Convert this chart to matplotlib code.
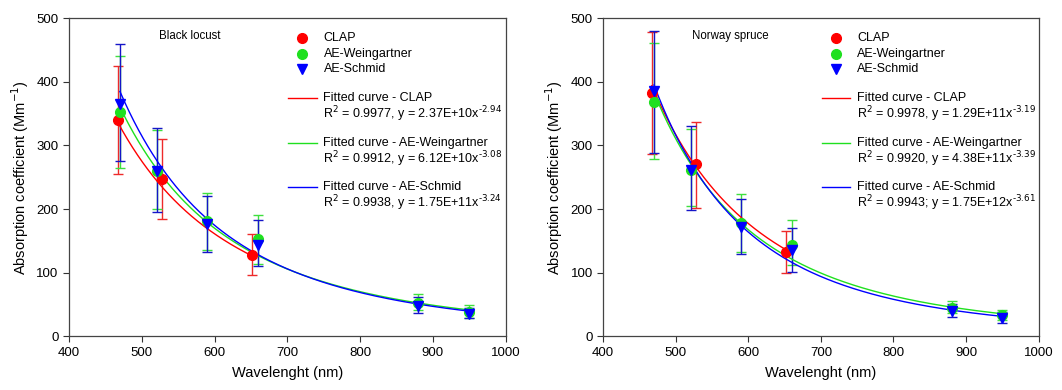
import numpy as np
import matplotlib.pyplot as plt
from matplotlib.lines import Line2D

plt.rcParams['font.family'] = ['Liberation Sans', 'DejaVu Sans']

# ---- data: Black locust ----
bl_clap_x = [467, 528, 652]
bl_clap_y = [340, 248, 128]
bl_clap_lo = [255, 185, 96]
bl_clap_hi = [425, 310, 160]

bl_ae_x = [470, 521, 590, 660, 880, 950]
bl_wein_y = [353, 260, 181, 153, 52, 38]
bl_wein_lo = [265, 200, 135, 114, 41, 28]
bl_wein_hi = [441, 324, 226, 190, 66, 49]
bl_schm_y = [366, 260, 176, 144, 48, 35]
bl_schm_lo = [275, 196, 132, 110, 37, 28]
bl_schm_hi = [460, 327, 221, 182, 61, 45]

bl_fit = {'CLAP': (2.37e10, -2.94, '0.9977', ','),
          'AE-Weingartner': (6.12e10, -3.08, '0.9912', ','),
          'AE-Schmid': (1.75e11, -3.24, '0.9938', ',')}

# ---- data: Norway spruce ----
ns_clap_x = [467, 528, 652]
ns_clap_y = [382, 271, 133]
ns_clap_lo = [286, 202, 100]
ns_clap_hi = [479, 337, 166]

ns_ae_x = [470, 521, 590, 660, 880, 950]
ns_wein_y = [369, 262, 178, 144, 44, 33]
ns_wein_lo = [278, 204, 133, 112, 36, 26]
ns_wein_hi = [461, 326, 224, 182, 56, 41]
ns_schm_y = [386, 262, 172, 135, 39, 29]
ns_schm_lo = [288, 198, 129, 101, 30, 21]
ns_schm_hi = [480, 330, 216, 170, 50, 38]

ns_fit = {'CLAP': (1.29e11, -3.19, '0.9978', ','),
          'AE-Weingartner': (4.38e11, -3.39, '0.9920', ','),
          'AE-Schmid': (1.75e12, -3.61, '0.9943', ';')}

RED, GREEN, BLUE = '#ff0000', '#1fe01f', '#0000ff'
ERED, EGREEN, EBLUE = '#ee2a2a', '#3ee03e', '#1515c8'


def panel(ax, title, clap, wein, schm, fits):
    cx, cy, clo, chi = clap
    ax_x, wy, wlo, whi = wein
    _, sy, slo, shi = schm
    # error bars
    for x, y, lo, hi, ec in [(cx, cy, clo, chi, ERED),
                             (ax_x, wy, wlo, whi, EGREEN),
                             (ax_x, sy, slo, shi, EBLUE)]:
        y = np.array(y)
        err = [y - np.array(lo), np.array(hi) - y]
        ax.errorbar(x, y, yerr=err, fmt='none', ecolor=ec, elinewidth=1,
                    capsize=3.8, capthick=1, zorder=2)
    # fitted curves over each data range
    for name, col, xd in [('CLAP', RED, cx), ('AE-Weingartner', GREEN, ax_x),
                          ('AE-Schmid', BLUE, ax_x)]:
        a, b, r2, sep = fits[name]
        xs = np.linspace(min(xd), max(xd), 300)
        ax.plot(xs, a * xs ** b, color=col, lw=1, zorder=3)
    # markers
    ax.plot(cx, cy, 'o', color=RED, ms=7, mec=RED, zorder=4)
    ax.plot(ax_x, wy, 'o', color=GREEN, ms=7, mec=GREEN, zorder=4)
    ax.plot(ax_x, sy, 'v', color=BLUE, ms=7, mec=BLUE, zorder=5)

    ax.set_xlim(400, 1000)
    ax.set_ylim(0, 500)
    ax.set_xticks(np.arange(400, 1001, 100))
    ax.set_yticks(np.arange(0, 501, 100))
    ax.tick_params(direction='out', length=4, width=0.8, labelsize=9.5,
                   top=False, right=False, color='#333333')
    for s in ax.spines.values():
        s.set_color('#444444')
        s.set_linewidth(0.9)
    ax.set_xlabel('Wavelenght (nm)', fontsize=10.5, labelpad=5)
    ax.set_ylabel('Absorption coefficient (Mm$^{-1}$)', fontsize=10.5, labelpad=4)

    ax.text(0.205, 0.943, title, transform=ax.transAxes, fontsize=8.3,
            va='center', ha='left')

    # legend (manual)
    mk = [('CLAP', 'o', RED), ('AE-Weingartner', 'o', GREEN), ('AE-Schmid', 'v', BLUE)]
    for i, (lab, m, col) in enumerate(mk):
        yy = 0.938 - i * 0.049
        ax.add_line(Line2D([0.534], [yy], marker=m, color=col, ms=7, ls='none',
                           transform=ax.transAxes))
        ax.text(0.583, yy, lab, transform=ax.transAxes, fontsize=9, va='center')
    for i, (lab, col) in enumerate([('CLAP', RED), ('AE-Weingartner', GREEN),
                                    ('AE-Schmid', BLUE)]):
        a, b, r2, sep = fits[lab]
        yy = 0.748 - i * 0.140
        ax.add_line(Line2D([0.502, 0.567], [yy, yy], color=col, lw=1,
                           transform=ax.transAxes))
        ax.text(0.583, yy, 'Fitted curve - ' + lab, transform=ax.transAxes,
                fontsize=9, va='center')
        ex = int(np.floor(np.log10(a)))
        mant = a / 10 ** ex
        ax.text(0.583, yy - 0.05,
                r'R$^{\text{2}}$ = %s%s y = %.2fE+%dx$^{\text{%.2f}}$' % (r2, sep, mant, ex, b),
                transform=ax.transAxes, fontsize=9, va='center')


fig = plt.figure(figsize=(10.62, 3.9), dpi=100)
ax1 = fig.add_axes([0.065, 0.138, 0.411, 0.815])
ax2 = fig.add_axes([0.568, 0.138, 0.410, 0.815])

panel(ax1, 'Black locust',
      (bl_clap_x, bl_clap_y, bl_clap_lo, bl_clap_hi),
      (bl_ae_x, bl_wein_y, bl_wein_lo, bl_wein_hi),
      (bl_ae_x, bl_schm_y, bl_schm_lo, bl_schm_hi), bl_fit)
panel(ax2, 'Norway spruce',
      (ns_clap_x, ns_clap_y, ns_clap_lo, ns_clap_hi),
      (ns_ae_x, ns_wein_y, ns_wein_lo, ns_wein_hi),
      (ns_ae_x, ns_schm_y, ns_schm_lo, ns_schm_hi), ns_fit)

fig.savefig('out.png', dpi=100)
